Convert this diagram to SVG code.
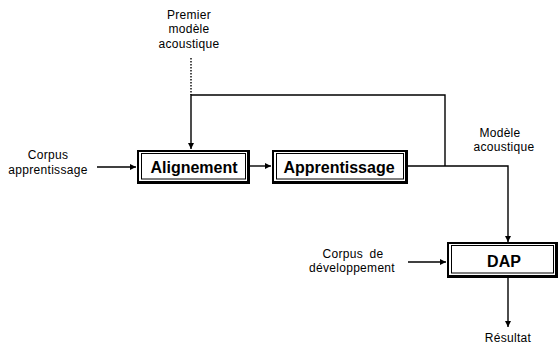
<svg xmlns="http://www.w3.org/2000/svg" width="558" height="349" viewBox="0 0 558 349">
<style>
.lbl{font-family:"Liberation Sans",Arial,sans-serif;font-size:12px;letter-spacing:0.3px;fill:#000;text-anchor:middle}
.bt{font-family:"Liberation Sans",Arial,sans-serif;font-size:16px;font-weight:bold;fill:#000;text-anchor:middle}
.ln{stroke:#000;stroke-width:1.4;fill:none}
.inner{stroke:#000;stroke-width:1;fill:none}
</style>
<defs>
<marker id="ah" viewBox="0 0 6 6" refX="6" refY="3" markerWidth="6" markerHeight="6" markerUnits="userSpaceOnUse" orient="auto">
<path d="M0,0 L6,3 L0,6 z" fill="#000"/>
</marker>
</defs>
<rect width="558" height="349" fill="#fff"/>
<g id="connectors">
<line class="ln" x1="97" y1="167" x2="136" y2="167" marker-end="url(#ah)"/>
<line class="ln" x1="250" y1="166" x2="271" y2="166" marker-end="url(#ah)"/>
<polyline class="ln" points="408,166 508,166 508,242" marker-end="url(#ah)"/>
<polyline class="ln" points="445,166 445,95 191,95 191,149" marker-end="url(#ah)"/>
<line x1="191" y1="58" x2="191" y2="95" stroke="#000" stroke-width="1.4" stroke-dasharray="1.5,1.5"/>
<line class="ln" x1="408" y1="262" x2="446" y2="262" marker-end="url(#ah)"/>
<line class="ln" x1="508" y1="278" x2="508" y2="327" marker-end="url(#ah)"/>
</g>
<g id="alignement">
<rect x="137" y="150" width="113" height="34" fill="#000"/>
<rect x="139" y="152" width="108" height="29" fill="#fff"/>
<rect class="inner" x="141.5" y="153.5" width="104" height="25.5"/>
<text class="bt" x="194" y="173">Alignement</text>
</g>
<g id="apprentissage">
<rect x="272" y="150" width="136" height="34" fill="#000"/>
<rect x="274" y="152" width="131" height="29" fill="#fff"/>
<rect class="inner" x="276.5" y="153.5" width="127" height="25.5"/>
<text class="bt" x="339" y="173">Apprentissage</text>
</g>
<g id="dap">
<rect x="447" y="242" width="111" height="36" fill="#000"/>
<rect x="449" y="244" width="106" height="31" fill="#fff"/>
<rect class="inner" x="451.5" y="245.5" width="102" height="27.5"/>
<text class="bt" x="504" y="267">DAP</text>
</g>
<g id="premier">
<text class="lbl" x="189" y="18.5">Premier</text>
<text class="lbl" x="189" y="33">modèle</text>
<text class="lbl" x="189" y="47.5">acoustique</text>
</g>
<g id="corpus-app">
<text class="lbl" x="48" y="159">Corpus</text>
<text class="lbl" x="48" y="173.5">apprentissage</text>
</g>
<g id="modele">
<text class="lbl" x="500" y="137">Modèle</text>
<text class="lbl" x="504" y="151">acoustique</text>
</g>
<g id="corpus-dev">
<text class="lbl" x="353" y="258" word-spacing="3">Corpus de</text>
<text class="lbl" x="352" y="272">développement</text>
</g>
<g id="resultat">
<text class="lbl" x="508" y="342">Résultat</text>
</g>
</svg>
